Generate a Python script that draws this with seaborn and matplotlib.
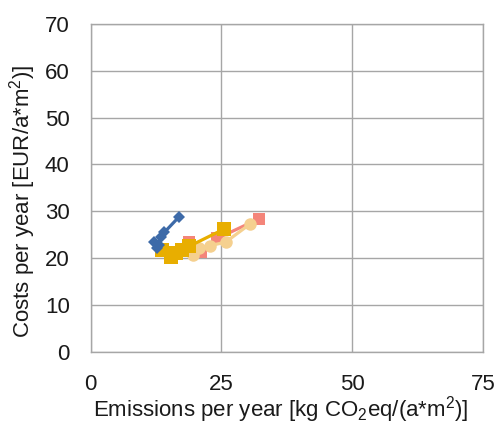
import matplotlib
matplotlib.use("Agg")
import matplotlib.pyplot as plt
import seaborn as sns
import pandas as pd

sns.set_style("white")
plt.rcParams['font.family'] = ['Liberation Sans', 'DejaVu Sans']
plt.rcParams['mathtext.default'] = 'regular'
plt.rcParams['mathtext.fontset'] = 'custom'
plt.rcParams['mathtext.rm'] = 'Liberation Sans'

# emissions (x) and costs (y) per series
blue_x = [12.7, 12.2, 13.0, 13.5, 14.1, 16.9]
blue_y = [22.1, 23.5, 22.8, 24.6, 25.5, 28.8]

salmon_x = [18.8, 21.2, 24.2, 32.2]
salmon_y = [23.5, 21.4, 24.2, 28.4]

tan_x = [19.5, 20.7, 22.9, 25.8, 30.5]
tan_y = [20.6, 22.1, 22.7, 23.4, 27.3]

gold_x = [13.6, 15.3, 16.4, 17.5, 18.8, 25.5]
gold_y = [21.8, 20.2, 21.2, 21.7, 22.5, 26.2]

series = [
    (salmon_x, salmon_y, "#f4857a", "s", 9),
    (tan_x, tan_y, "#f5d08f", "o", 9),
    (gold_x, gold_y, "#e8ae00", "s", 10),
    (blue_x, blue_y, "#3d6aa8", "D", 6.5),
]

fig = plt.figure(figsize=(5.03, 4.26), dpi=100)
ax = fig.add_axes([0.180, 0.174, 0.780, 0.770])

for xs, ys, col, mk, ms in series:
    d = pd.DataFrame({"x": xs, "y": ys})
    sns.lineplot(data=d, x="x", y="y", sort=False, color=col, marker=mk,
                 markersize=ms, markeredgewidth=0, linewidth=2.3, ax=ax)

ax.set_xlim(0, 75)
ax.set_ylim(0, 70)
ax.set_xticks([0, 25, 50, 75])
ax.set_yticks(range(0, 80, 10))
ax.grid(True, color="#a6a6a6", linewidth=1)
for s in ax.spines.values():
    s.set_color("#a6a6a6")
    s.set_linewidth(1)
ax.tick_params(axis="both", length=5, color="#a6a6a6", labelsize=16, labelcolor="#1a1a1a")
ax.tick_params(axis="x", pad=11)
ax.tick_params(axis="y", pad=10)

ax.set_xlabel("Emissions per year [kg CO$_2$eq/(a*m$^2$)]", fontsize=16, color="#1a1a1a")
ax.set_ylabel("Costs per year [EUR/a*m$^2$)]", fontsize=16, color="#1a1a1a")
ax.xaxis.set_label_coords(0.484, -0.198)
ax.xaxis.label.set_va("baseline")
ax.yaxis.set_label_coords(-0.173, 0.46)
ax.yaxis.label.set_va("center")

fig.savefig("out.png", dpi=100)
